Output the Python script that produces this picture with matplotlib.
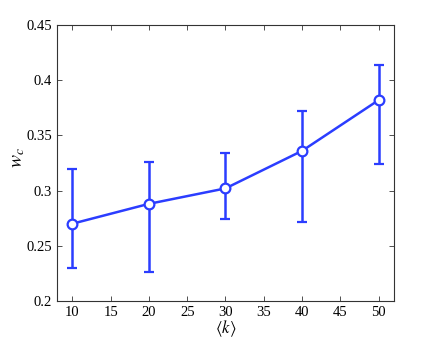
import matplotlib
matplotlib.use('Agg')
import matplotlib.pyplot as plt

# mean degree vs critical w
k = [10, 20, 30, 40, 50]
wc = [0.270, 0.288, 0.302, 0.336, 0.382]
wc_low = [0.230, 0.226, 0.274, 0.272, 0.324]
wc_high = [0.320, 0.326, 0.334, 0.372, 0.414]

plt.rcParams['font.family'] = ['Liberation Serif', 'DejaVu Serif']
plt.rcParams['mathtext.fontset'] = 'stix'

err = [[m - lo for m, lo in zip(wc, wc_low)], [hi - m for m, hi in zip(wc, wc_high)]]

fig = plt.figure(figsize=(4.36, 3.39), dpi=100)
ax = fig.add_axes([0.1307, 0.1121, 0.773, 0.8142])
blue = '#2b3dff'
ax.errorbar(k, wc, yerr=err, color=blue, lw=1.8, capsize=3.5, capthick=1.8,
            marker='o', ms=7, mfc='white', mec=blue, mew=1.6)

ax.set_xlim(8, 52)
ax.set_ylim(0.2, 0.45)
ax.set_xticks([10, 15, 20, 25, 30, 35, 40, 45, 50])
ax.set_yticks([0.2, 0.25, 0.3, 0.35, 0.4, 0.45])
ax.set_yticklabels(['0.2', '0.25', '0.3', '0.35', '0.4', '0.45'])
ax.tick_params(direction='in', top=True, right=True, labelsize=10.5, length=3.5, width=0.6, colors='#333333', labelcolor='black')
for s in ax.spines.values():
    s.set_linewidth(0.8)
    s.set_color('#333333')

ax.set_xlabel(r'$\langle k\rangle$', fontsize=12, labelpad=0)
ax.set_ylabel(r'$w_c$', fontsize=14)
ax.yaxis.set_label_coords(-0.09, 0.52)

fig.savefig('out.png', dpi=100)
